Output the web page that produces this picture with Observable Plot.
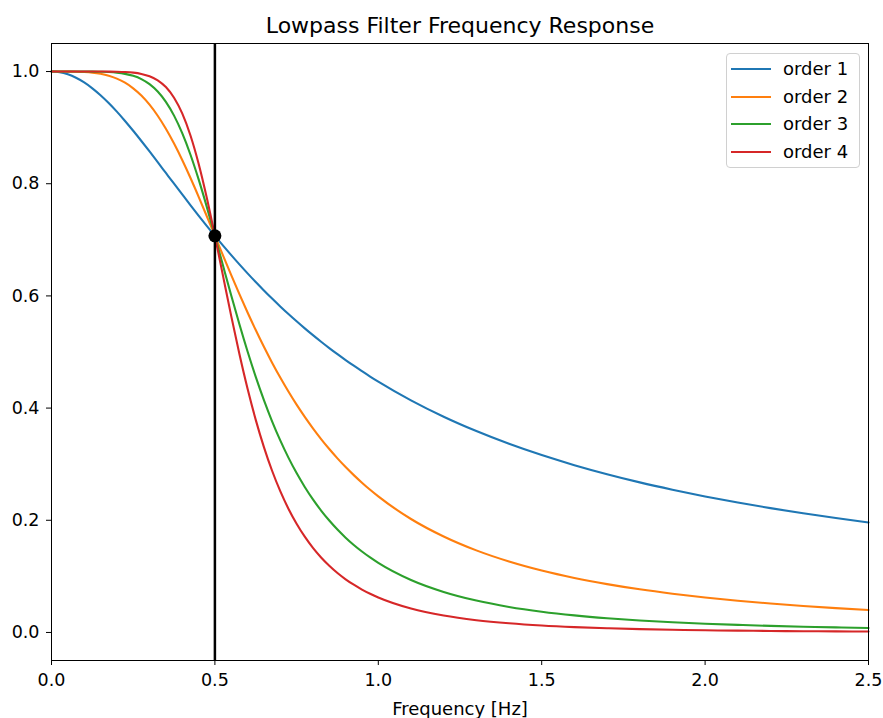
<!DOCTYPE html>
<html>
<head>
<meta charset="utf-8">
<script src="https://cdn.jsdelivr.net/npm/d3@7"></script>
<script src="https://cdn.jsdelivr.net/npm/@observablehq/plot@0.6"></script>
<style>
  html, body { margin: 0; padding: 0; background: #fff; }
  #wrap { position: relative; width: 883px; height: 718px; font-family: "DejaVu Sans", sans-serif; }
  #legend { position: absolute; left: 726px; top: 53px; width: 132px; height: 113px;
            border: 1px solid #d0d0d0; border-radius: 4px; background: rgba(255,255,255,0.8); box-sizing: content-box; }
  .row { position: absolute; left: 0; height: 22px; font-size: 18px; color: #000; }
  .sw { position: absolute; left: 4px; top: 10px; width: 40px; height: 2px; }
  .lab { position: absolute; left: 56px; top: 0; line-height: 22px; white-space: nowrap; }
</style>
</head>
<body>
<div id="wrap"><div id="chart"></div><div id="legend"></div></div>
<script>
const title = "Lowpass Filter Frequency Response";
const xLabel = "Frequency [Hz]";
const seriesNames = ["order 1", "order 2", "order 3", "order 4"];
const colors = ["#1f77b4", "#ff7f0e", "#2ca02c", "#d62728"];
const xTicks = [0, 0.5, 1.0, 1.5, 2.0, 2.5];
const yTicks = [0, 0.2, 0.4, 0.6, 0.8, 1.0];
const cutoff = 0.5;
const cutoffGain = 0.7071;

const freq = [0, 0.025, 0.05, 0.075, 0.1, 0.125, 0.15, 0.175, 0.2, 0.225, 0.25, 0.275, 0.3, 0.325, 0.35, 0.375, 0.4, 0.425, 0.45, 0.475, 0.5,
  0.525, 0.55, 0.575, 0.6, 0.625, 0.65, 0.675, 0.7, 0.725, 0.75, 0.775, 0.8, 0.825, 0.85, 0.875, 0.9, 0.925, 0.95, 0.975, 1.0,
  1.1, 1.2, 1.3, 1.4, 1.5, 1.6, 1.7, 1.8, 1.9, 2.0, 2.1, 2.2, 2.3, 2.4, 2.5];

const order1 = [1.0000, 0.9988, 0.9950, 0.9889, 0.9806, 0.9701, 0.9578, 0.9439, 0.9285, 0.9119, 0.8944, 0.8762, 0.8575, 0.8384, 0.8192, 0.8000, 0.7809, 0.7619, 0.7433, 0.7250, 0.7071,
  0.6897, 0.6727, 0.6562, 0.6402, 0.6247, 0.6097, 0.5952, 0.5812, 0.5677, 0.5547, 0.5421, 0.5300, 0.5183, 0.5070, 0.4961, 0.4856, 0.4755, 0.4658, 0.4563, 0.4472,
  0.4138, 0.3846, 0.3590, 0.3363, 0.3162, 0.2983, 0.2822, 0.2676, 0.2545, 0.2425, 0.2316, 0.2216, 0.2124, 0.2040, 0.1961];
const order2 = [1.0000, 1.0000, 0.9999, 0.9997, 0.9992, 0.9981, 0.9960, 0.9926, 0.9874, 0.9801, 0.9701, 0.9572, 0.9409, 0.9212, 0.8980, 0.8716, 0.8423, 0.8106, 0.7771, 0.7424, 0.7071,
  0.6718, 0.6370, 0.6031, 0.5704, 0.5391, 0.5092, 0.4810, 0.4545, 0.4295, 0.4061, 0.3843, 0.3639, 0.3448, 0.3270, 0.3104, 0.2949, 0.2805, 0.2670, 0.2543, 0.2425,
  0.2023, 0.1711, 0.1463, 0.1265, 0.1104, 0.0972, 0.0862, 0.0769, 0.0691, 0.0624, 0.0566, 0.0516, 0.0472, 0.0434, 0.0400];
const order3 = [1.0000, 1.0000, 1.0000, 1.0000, 1.0000, 0.9999, 0.9996, 0.9991, 0.9980, 0.9959, 0.9923, 0.9865, 0.9775, 0.9643, 0.9459, 0.9214, 0.8901, 0.8521, 0.8081, 0.7592, 0.7071,
  0.6537, 0.6007, 0.5494, 0.5009, 0.4557, 0.4143, 0.3765, 0.3424, 0.3117, 0.2841, 0.2594, 0.2372, 0.2173, 0.1995, 0.1834, 0.1690, 0.1560, 0.1443, 0.1337, 0.1240,
  0.0935, 0.0722, 0.0568, 0.0455, 0.0370, 0.0305, 0.0254, 0.0214, 0.0182, 0.0156, 0.0135, 0.0117, 0.0103, 0.0090, 0.0080];
const order4 = [1.0000, 1.0000, 1.0000, 1.0000, 1.0000, 1.0000, 1.0000, 0.9999, 0.9997, 0.9992, 0.9981, 0.9958, 0.9917, 0.9844, 0.9724, 0.9534, 0.9254, 0.8865, 0.8361, 0.7754, 0.7071,
  0.6353, 0.5640, 0.4964, 0.4344, 0.3790, 0.3305, 0.2883, 0.2519, 0.2206, 0.1938, 0.1707, 0.1508, 0.1337, 0.1189, 0.1060, 0.0948, 0.0851, 0.0765, 0.0690, 0.0624,
  0.0427, 0.0301, 0.0219, 0.0163, 0.0123, 0.0095, 0.0075, 0.0059, 0.0048, 0.0039, 0.0032, 0.0027, 0.0022, 0.0019, 0.0016];

const seriesValues = [order1, order2, order3, order4];
const data = seriesValues.flatMap((vals, i) => freq.map((f, j) => ({f, v: vals[j], name: seriesNames[i]})));

const chart = Plot.plot({
  width: 883,
  height: 718,
  marginLeft: 51,
  marginRight: 15,
  marginTop: 43,
  marginBottom: 58,
  style: {fontFamily: "DejaVu Sans", fontSize: "17.5px", color: "#000", background: "#fff"},
  x: {domain: [0, 2.5]},
  y: {domain: [-0.05, 1.05]},
  color: {domain: seriesNames, range: colors},
  marks: [
    Plot.line(data, {x: "f", y: "v", z: "name", stroke: "name", strokeWidth: 2.1, curve: "monotone-x"}),
    Plot.ruleX([cutoff], {stroke: "#000", strokeWidth: 2.5}),
    Plot.dot([{f: cutoff, v: cutoffGain}], {x: "f", y: "v", r: 6.5, fill: "#000"}),
    Plot.frame({stroke: "#000", strokeWidth: 1}),
    Plot.axisX({ticks: xTicks, tickFormat: d3.format(".1f"), tickSize: 5, tickPadding: 8, label: null, fontSize: 17.5}),
    Plot.axisY({ticks: yTicks, tickFormat: d3.format(".1f"), tickSize: 5, tickPadding: 7, label: null, fontSize: 17.5}),
    Plot.text([title], {frameAnchor: "top", lineAnchor: "middle", dy: -18, text: d => d, fontSize: 22}),
    Plot.text([xLabel], {frameAnchor: "bottom", lineAnchor: "middle", dy: 49, text: d => d, fontSize: 18})
  ]
});
document.getElementById("chart").appendChild(chart);

const legend = document.getElementById("legend");
seriesNames.forEach((name, i) => {
  const row = document.createElement("div");
  row.className = "row";
  row.style.top = (4 + i * 27.5) + "px";
  row.style.width = "132px";
  const sw = document.createElement("div");
  sw.className = "sw";
  sw.style.background = colors[i];
  const lab = document.createElement("div");
  lab.className = "lab";
  lab.textContent = name;
  row.appendChild(sw);
  row.appendChild(lab);
  legend.appendChild(row);
});
</script>
</body>
</html>
